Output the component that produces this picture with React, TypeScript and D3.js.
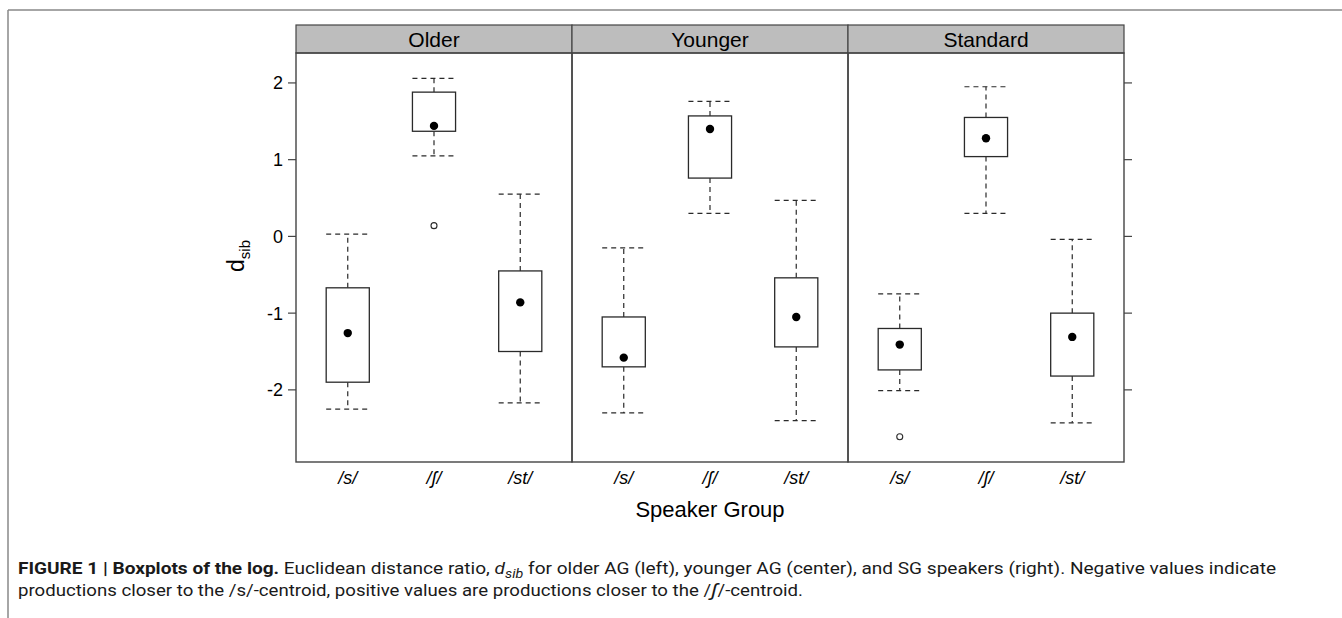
import React from "react";
import { scaleLinear } from "d3";

const groups = ["Older", "Younger", "Standard"];
const sounds = ["/s/", "/ʃ/", "/st/"];

// per group, per sound
const whiskerLow = [
  [-2.25, 1.05, -2.17],
  [-2.3, 0.3, -2.4],
  [-2.01, 0.3, -2.43],
];
const boxLow = [
  [-1.9, 1.37, -1.5],
  [-1.7, 0.76, -1.44],
  [-1.74, 1.04, -1.82],
];
const medians = [
  [-1.26, 1.44, -0.86],
  [-1.58, 1.4, -1.05],
  [-1.41, 1.28, -1.31],
];
const boxHigh = [
  [-0.67, 1.88, -0.45],
  [-1.05, 1.57, -0.54],
  [-1.2, 1.55, -1.0],
];
const whiskerHigh = [
  [0.03, 2.06, 0.55],
  [-0.15, 1.76, 0.47],
  [-0.75, 1.95, -0.04],
];
const outliers = [
  { group: 0, sound: 1, value: 0.14 },
  { group: 2, sound: 0, value: -2.61 },
];
const yTicks = [-2, -1, 0, 1, 2];

const left = 296;
const right = 1124;
const stripTop = 25;
const top = 53;
const bottom = 462;
const panelW = (right - left) / groups.length;

const y = scaleLinear().domain([-2.94, 2.39]).range([bottom, top]);

const App = () => {
  const x = (g: number) =>
    scaleLinear()
      .domain([0.4, 3.6])
      .range([left + g * panelW, left + (g + 1) * panelW]);
  const boxHalf = (panelW / 3.2) * 0.25;
  const dash = "5,4";
  const ink = "#2a2a2a";

  return (
    <svg
      width={1342}
      height={618}
      style={{ position: "absolute", left: 0, top: 0, background: "#fff" }}
      fontFamily="Arial, 'Liberation Sans', Helvetica, sans-serif"
    >
      {/* outer figure frame */}
      <line x1={8} y1={10} x2={1342} y2={10} stroke="#888" strokeWidth={1.5} />
      <line x1={8} y1={10} x2={8} y2={618} stroke="#888" strokeWidth={1.5} />

      {groups.map((g, gi) => {
        const xs = x(gi);
        const x0 = left + gi * panelW;
        return (
          <g key={g}>
            <rect x={x0} y={stripTop} width={panelW} height={top - stripTop} fill="#bdbdbd" stroke="#444" strokeWidth={1.2} />
            <text x={x0 + panelW / 2} y={47} textAnchor="middle" fontSize={21}>
              {g}
            </text>
            <rect x={x0} y={top} width={panelW} height={bottom - top} fill="none" stroke="#444" strokeWidth={1.4} />
            {sounds.map((s, si) => {
              const cx = xs(si + 1);
              return (
                <g key={s}>
                  <line x1={cx} x2={cx} y1={y(boxHigh[gi][si])} y2={y(whiskerHigh[gi][si])} stroke={ink} strokeWidth={1.2} strokeDasharray={dash} />
                  <line x1={cx} x2={cx} y1={y(boxLow[gi][si])} y2={y(whiskerLow[gi][si])} stroke={ink} strokeWidth={1.2} strokeDasharray={dash} />
                  <line x1={cx - boxHalf} x2={cx + boxHalf} y1={y(whiskerHigh[gi][si])} y2={y(whiskerHigh[gi][si])} stroke={ink} strokeWidth={1.2} strokeDasharray={dash} />
                  <line x1={cx - boxHalf} x2={cx + boxHalf} y1={y(whiskerLow[gi][si])} y2={y(whiskerLow[gi][si])} stroke={ink} strokeWidth={1.2} strokeDasharray={dash} />
                  <rect
                    x={cx - boxHalf}
                    width={boxHalf * 2}
                    y={y(boxHigh[gi][si])}
                    height={y(boxLow[gi][si]) - y(boxHigh[gi][si])}
                    fill="#fff"
                    stroke={ink}
                    strokeWidth={1.3}
                  />
                  <circle cx={cx} cy={y(medians[gi][si])} r={4.2} fill="#000" />
                  <text x={cx} y={484} textAnchor="middle" fontSize={18} fontStyle="italic">
                    {s}
                  </text>
                </g>
              );
            })}
            {outliers
              .filter((o) => o.group === gi)
              .map((o, i) => (
                <circle key={i} cx={xs(o.sound + 1)} cy={y(o.value)} r={3} fill="none" stroke={ink} strokeWidth={1.1} />
              ))}
          </g>
        );
      })}

      {/* y axis left & right */}
      {yTicks.map((t) => (
        <g key={t}>
          <line x1={left - 8} x2={left} y1={y(t)} y2={y(t)} stroke="#444" strokeWidth={1.2} />
          <line x1={right} x2={right + 8} y1={y(t)} y2={y(t)} stroke="#444" strokeWidth={1.2} />
          <text x={283} y={y(t) + 6.5} textAnchor="end" fontSize={18}>
            {t}
          </text>
        </g>
      ))}

      <text transform="translate(244,256) rotate(-90)" textAnchor="middle" fontSize={23}>
        d<tspan fontSize={15} dy={6}>sib</tspan>
      </text>

      <text x={(left + right) / 2} y={517} textAnchor="middle" fontSize={22}>
        Speaker Group
      </text>

      <g fontFamily="'Liberation Sans Narrow', 'Roboto', sans-serif" fontSize={16} fill="#1a1a1a">
        <text x={18} y={574} textLength={1258} lengthAdjust="spacingAndGlyphs">
          <tspan fontWeight="bold">FIGURE 1 | Boxplots of the log.</tspan>
          <tspan> Euclidean distance ratio, </tspan>
          <tspan fontStyle="italic">d</tspan>
          <tspan fontStyle="italic" fontSize={12} dy={4}>sib</tspan>
          <tspan dy={-4}> for older AG (left), younger AG (center), and SG speakers (right). Negative values indicate</tspan>
        </text>
        <text x={18} y={596} textLength={785} lengthAdjust="spacingAndGlyphs">
          productions closer to the /s/-centroid, positive values are productions closer to the /
          <tspan fontStyle="italic" fontSize={19}>ʃ</tspan>
          /-centroid.
        </text>
      </g>
    </svg>
  );
};

export default App;
